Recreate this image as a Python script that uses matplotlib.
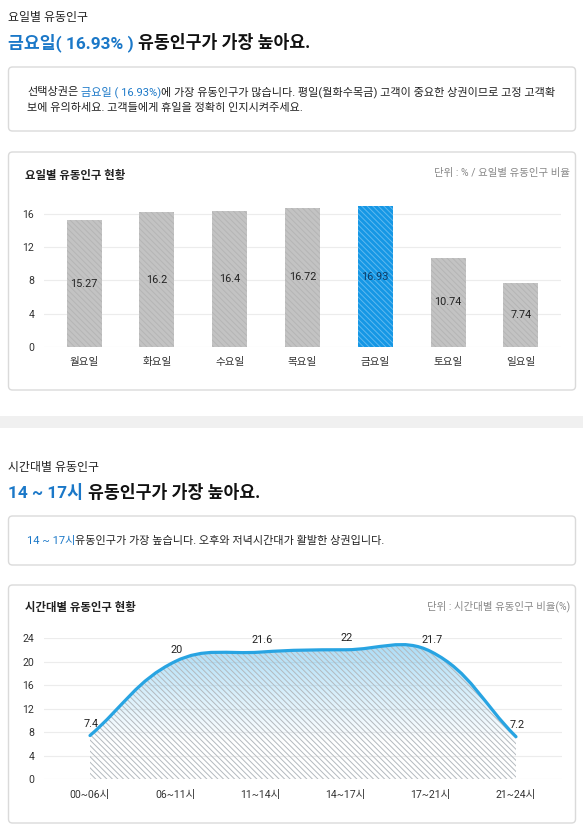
import numpy as np
import matplotlib
matplotlib.use("Agg")
import matplotlib.pyplot as plt
from matplotlib.patches import FancyBboxPatch, Rectangle, PathPatch
from matplotlib.path import Path

plt.rcParams['font.family'] = ['Roboto', 'Noto Sans CJK KR', 'DejaVu Sans']
plt.rcParams['hatch.linewidth'] = 0.7

# ---- data ----
days = ["월요일", "화요일", "수요일", "목요일", "금요일", "토요일", "일요일"]
day_share = [15.27, 16.2, 16.4, 16.72, 16.93, 10.74, 7.74]
top_day = 4

slots = ["00~06시", "06~11시", "11~14시", "14~17시", "17~21시", "21~24시"]
slot_share = [7.4, 20, 21.6, 22, 21.7, 7.2]

BLUE_TXT = "#1b78c8"
BLUE_BAR = "#1597e5"
LINE = "#28a4e2"
W, H = 583, 838

fig = plt.figure(figsize=(W / 100, H / 100), dpi=100)
bg = fig.add_axes([0, 0, 1, 1])
bg.set_xlim(0, W)
bg.set_ylim(H, 0)
bg.axis("off")


def px_axes(x0, y0, x1, y1):
    # axes placed by pixel box (top-left origin)
    return fig.add_axes([x0 / W, (H - y1) / H, (x1 - x0) / W, (y1 - y0) / H])


def card(y0, y1):
    bg.add_patch(FancyBboxPatch((8.5, y0), 567, y1 - y0,
                                boxstyle="round,pad=0,rounding_size=4",
                                fc="white", ec="#dadada", lw=1.0))


def rich(x, y, parts, size, weight="normal"):
    # parts: (text, color, gap in points before it)
    prev = None
    for txt, col, gap in parts:
        if prev is None:
            prev = bg.text(x, y, txt, color=col, fontsize=size, fontweight=weight,
                           ha="left", va="center")
        else:
            prev = bg.annotate(txt, xy=(1, 0.5), xycoords=prev, xytext=(gap, 0),
                               textcoords="offset points", color=col, fontsize=size,
                               fontweight=weight, ha="left", va="center")


def style_axes(ax):
    ax.grid(axis="y", color="#ececec", lw=0.8, zorder=0)
    for s in ax.spines.values():
        s.set_visible(False)
    ax.tick_params(length=0, labelsize=7.6, colors="#333333")
    ax.tick_params(axis="y", pad=7)


# ---- section 1 ----
bg.text(8, 18, "요일별 유동인구", fontsize=8.6, color="#222222", va="center")
rich(8, 43, [(f"{days[top_day]}( {day_share[top_day]}% )", BLUE_TXT, 0),
             ("유동인구가 가장 높아요.", "#111111", 3.4)], 12.4, "bold")

card(67, 131)
rich(27, 92, [("선택상권은", "#222222", 0),
              (f"{days[top_day]} ( {day_share[top_day]}%)", BLUE_TXT, 2.0),
              ("에 가장 유동인구가 많습니다. 평일(월화수목금) 고객이 중요한 상권이므로 고정 고객확",
               "#222222", 0)], 8.0)
bg.text(27, 108, "보에 유의하세요. 고객들에게 휴일을 정확히 인지시켜주세요.",
        fontsize=8.0, color="#222222", va="center")

card(152, 390)
bg.text(25, 175, "요일별 유동인구 현황", fontsize=8.2, fontweight="bold",
        color="#222222", va="center")
bg.text(570, 173, "단위 : % / 요일별 유동인구 비율", fontsize=7.5,
        color="#888888", va="center", ha="right")

ax1 = px_axes(44, 204, 561, 347)
x1 = np.arange(len(days))
for i, v in enumerate(day_share):
    if i == top_day:
        fc, hc, tc = BLUE_BAR, "#5fb9f0", "#0d3b66"
    else:
        fc, hc, tc = "#c3c3c3", "#b5b5b5", "#222222"
    ax1.bar(x1[i], v, width=0.48, color=fc, edgecolor=hc, linewidth=0,
            hatch="\\\\\\\\\\\\", zorder=3)
    ax1.text(x1[i], v / 2, f"{v:g}", ha="center", va="center",
             fontsize=7.8, color=tc, zorder=4)
ax1.set_xlim(-0.55, 6.55)
ax1.set_ylim(0, 17.2)
ax1.set_yticks([0, 4, 8, 12, 16])
ax1.set_xticks(x1)
ax1.set_xticklabels(days)
style_axes(ax1)
ax1.tick_params(axis="x", pad=7)

# ---- separator ----
bg.add_patch(Rectangle((0, 416), W, 12, fc="#f0f0f0", ec="none"))

# ---- section 2 ----
bg.text(8, 467, "시간대별 유동인구", fontsize=8.6, color="#222222", va="center")
rich(8, 492, [("14 ~ 17시", BLUE_TXT, 0),
              ("유동인구가 가장 높아요.", "#111111", 3.4)], 12.4, "bold")

card(516, 565)
rich(27, 541, [("14 ~ 17시", BLUE_TXT, 0),
               ("유동인구가 가장 높습니다. 오후와 저녁시간대가 활발한 상권입니다.", "#222222", 0)], 8.0)

card(585, 823)
bg.text(25, 607, "시간대별 유동인구 현황", fontsize=8.2, fontweight="bold",
        color="#222222", va="center")
bg.text(570, 606, "단위 : 시간대별 유동인구 비율(%)", fontsize=7.5,
        color="#888888", va="center", ha="right")

ax2 = px_axes(44, 638, 562, 779)
ax2.set_xlim(-0.54, 5.54)
ax2.set_ylim(0, 24)
x2 = np.arange(len(slots), dtype=float)
y2 = np.array(slot_share, dtype=float)

# tension-0.4 spline (chart.js style), control points worked out in screen space
tension = 0.4
pts = ax2.transData.transform(np.column_stack([x2, y2]))
n = len(pts)
ctrl_prev, ctrl_next = [], []
for i in range(n):
    p0 = pts[max(i - 1, 0)]
    p1 = pts[i]
    p2 = pts[min(i + 1, n - 1)]
    d01 = np.hypot(*(p1 - p0))
    d12 = np.hypot(*(p2 - p1))
    s = d01 + d12
    fa = tension * d01 / s
    fb = tension * d12 / s
    ctrl_prev.append(p1 - fa * (p2 - p0))
    ctrl_next.append(p1 + fb * (p2 - p0))
inv = ax2.transData.inverted()
verts = [tuple(pts[0])]
codes = [Path.MOVETO]
for i in range(n - 1):
    verts += [tuple(ctrl_next[i]), tuple(ctrl_prev[i + 1]), tuple(pts[i + 1])]
    codes += [Path.CURVE4] * 3
verts = [tuple(v) for v in inv.transform(np.array(verts))]
line_path = Path(verts, codes)
area_path = Path(verts + [(x2[-1], 0), (x2[0], 0), (x2[0], y2[0])],
                 codes + [Path.LINETO, Path.LINETO, Path.CLOSEPOLY])

# gradient fill
grad = np.zeros((256, 1, 4))
grad[:, 0, :3] = matplotlib.colors.to_rgb("#5cbcee")
t = np.linspace(1, 0, 256)
grad[:, 0, 3] = np.clip((t - 0.25) / 0.75, 0, 1) ** 1.1 * 0.55
im = ax2.imshow(grad, extent=[x2[0], x2[-1], 0, 24], aspect="auto",
                origin="upper", zorder=2)
clip = PathPatch(area_path, transform=ax2.transData, fc="none", ec="none")
ax2.add_patch(clip)
im.set_clip_path(clip)
ax2.add_patch(PathPatch(area_path, fc="none", ec="#b3b9be", lw=0,
                        hatch="\\\\\\\\\\\\", zorder=3))
ax2.add_patch(PathPatch(line_path, fc="none", ec=LINE, lw=2.3, zorder=4,
                        capstyle="round", clip_on=False))
for xi, v in zip(x2, slot_share):
    ax2.annotate(f"{v:g}", (xi, v), xytext=(1, 5), textcoords="offset points",
                 ha="center", va="bottom", fontsize=7.8, color="#222222", zorder=5)

ax2.set_yticks([0, 4, 8, 12, 16, 20, 24])
ax2.set_xticks(x2)
ax2.set_xticklabels(slots)
style_axes(ax2)
ax2.tick_params(axis="x", pad=8)

fig.savefig("out.png", dpi=100)
